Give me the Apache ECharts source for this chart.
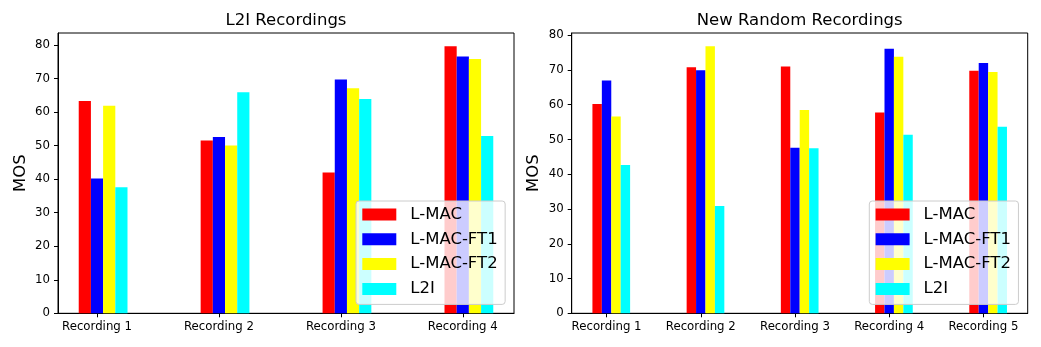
<!DOCTYPE html>
<html>
<head>
<meta charset="utf-8">
<script src="https://cdn.jsdelivr.net/npm/echarts@6/dist/echarts.min.js"></script>
<style>
html,body{margin:0;padding:0;background:#fff;}
#chart{width:1041px;height:347px;}
</style>
</head>
<body>
<div id="chart"></div>
<script>
// ---- data ----
const seriesNames = ['L-MAC', 'L-MAC-FT1', 'L-MAC-FT2', 'L2I'];
const seriesColors = ['#ff0000', '#0000ff', '#ffff00', '#00ffff'];

const l2iTitle = 'L2I Recordings';
const l2iCategories = ['Recording 1', 'Recording 2', 'Recording 3', 'Recording 4'];
const l2iLMAC    = [63.3, 51.5, 42.0, 79.6];
const l2iLMACFT1 = [40.2, 52.6, 69.7, 76.6];
const l2iLMACFT2 = [61.9, 50.0, 67.1, 75.8];
const l2iL2I     = [37.6, 65.9, 63.9, 52.9];

const newTitle = 'New Random Recordings';
const newCategories = ['Recording 1', 'Recording 2', 'Recording 3', 'Recording 4', 'Recording 5'];
const newLMAC    = [60.2, 70.8, 71.0, 57.8, 69.8];
const newLMACFT1 = [67.0, 69.9, 47.6, 76.1, 72.0];
const newLMACFT2 = [56.6, 76.8, 58.5, 73.8, 69.4];
const newL2I     = [42.7, 30.9, 47.5, 51.4, 53.7];

const yTicks = [0, 10, 20, 30, 40, 50, 60, 70, 80];
const yLabel = 'MOS';

// ---- layout / style ----
const FONT = 'DejaVu Sans';
const barWidthUnits = 0.1;
const barOffsets = [-0.1, 0, 0.1, 0.2];

function makeRender(offset) {
  return function (params, api) {
    const x = api.value(0), y = api.value(1);
    const p1 = api.coord([x + offset - barWidthUnits / 2, y]);
    const p2 = api.coord([x + offset + barWidthUnits / 2, 0]);
    return {
      type: 'rect',
      shape: { x: p1[0], y: p1[1], width: p2[0] - p1[0], height: p2[1] - p1[1] },
      style: api.style()
    };
  };
}

const panels = [
  { title: l2iTitle, cats: l2iCategories, vals: [l2iLMAC, l2iLMACFT1, l2iLMACFT2, l2iL2I],
    left: 58, legendLeft: 356 },
  { title: newTitle, cats: newCategories, vals: [newLMAC, newLMACFT1, newLMACFT2, newL2I],
    left: 571.7, legendLeft: 869.3 }
];

const option = {
  backgroundColor: '#fff',
  animation: false,
  textStyle: { fontFamily: FONT, color: '#000' },
  title: [], grid: [], xAxis: [], yAxis: [], series: [], legend: []
};

panels.forEach((p, gi) => {
  const n = p.cats.length;
  const xmin = barOffsets[0] - barWidthUnits / 2;
  const xmax = (n - 1) + barOffsets[3] + barWidthUnits / 2;
  const span = xmax - xmin;
  let ymax = 0;
  p.vals.forEach(a => a.forEach(v => { if (v > ymax) ymax = v; }));
  ymax = ymax * 1.05;

  option.grid.push({ left: p.left, top: 33, width: 456, height: 280.3,
    show: true, borderColor: '#000', borderWidth: 1, backgroundColor: 'transparent' });
  option.title.push({ text: p.title, left: p.left + 228, top: 10.5, textAlign: 'center', padding: 0,
    textStyle: { fontFamily: FONT, fontSize: 16.5, fontWeight: 'normal', color: '#000', lineHeight: 20 } });
  option.xAxis.push({
    type: 'value', gridIndex: gi,
    min: xmin - 0.05 * span, max: xmax + 0.05 * span,
    splitLine: { show: false },
    axisLine: { show: true, onZero: false, lineStyle: { color: '#000', width: 1 } },
    axisTick: { show: true, length: 4, customValues: p.cats.map((c, i) => i), lineStyle: { color: '#000' } },
    axisLabel: { customValues: p.cats.map((c, i) => i), margin: 7.5, fontSize: 11.75, color: '#000', fontFamily: FONT,
      formatter: v => p.cats[Math.round(v)] || '' }
  });
  option.yAxis.push({
    type: 'value', gridIndex: gi, min: 0, max: ymax,
    name: yLabel, nameLocation: 'middle', nameRotate: 90, nameGap: 29,
    nameTextStyle: { fontSize: 16.5, color: '#000', fontFamily: FONT },
    splitLine: { show: false },
    axisLine: { show: true, onZero: false, lineStyle: { color: '#000', width: 1 } },
    axisTick: { show: true, length: 4, customValues: yTicks, lineStyle: { color: '#000' } },
    axisLabel: { customValues: yTicks, margin: 8, fontSize: 11.75, color: '#000', fontFamily: FONT }
  });
  seriesNames.forEach((name, si) => {
    option.series.push({
      type: 'custom', name: name, xAxisIndex: gi, yAxisIndex: gi,
      renderItem: makeRender(barOffsets[si]),
      itemStyle: { color: seriesColors[si] },
      encode: { x: 0, y: 1 },
      data: p.vals[si].map((v, i) => [i, v])
    });
  });
  option.legend.push({
    data: seriesNames, orient: 'vertical', left: p.legendLeft, top: 201,
    icon: 'rect', itemWidth: 34, itemHeight: 12, itemGap: 4.8,
    padding: [3.5, 7.5, 5.5, 6.3],
    backgroundColor: 'rgba(255,255,255,0.8)', borderColor: '#cccccc', borderWidth: 1, borderRadius: 3,
    selectedMode: false,
    textStyle: { fontFamily: FONT, fontSize: 16.5, color: '#000', lineHeight: 20, padding: [0, 0, 0, 9] }
  });
});

const chart = echarts.init(document.getElementById('chart'), null, { renderer: 'canvas' });
chart.setOption(option);
</script>
</body>
</html>
